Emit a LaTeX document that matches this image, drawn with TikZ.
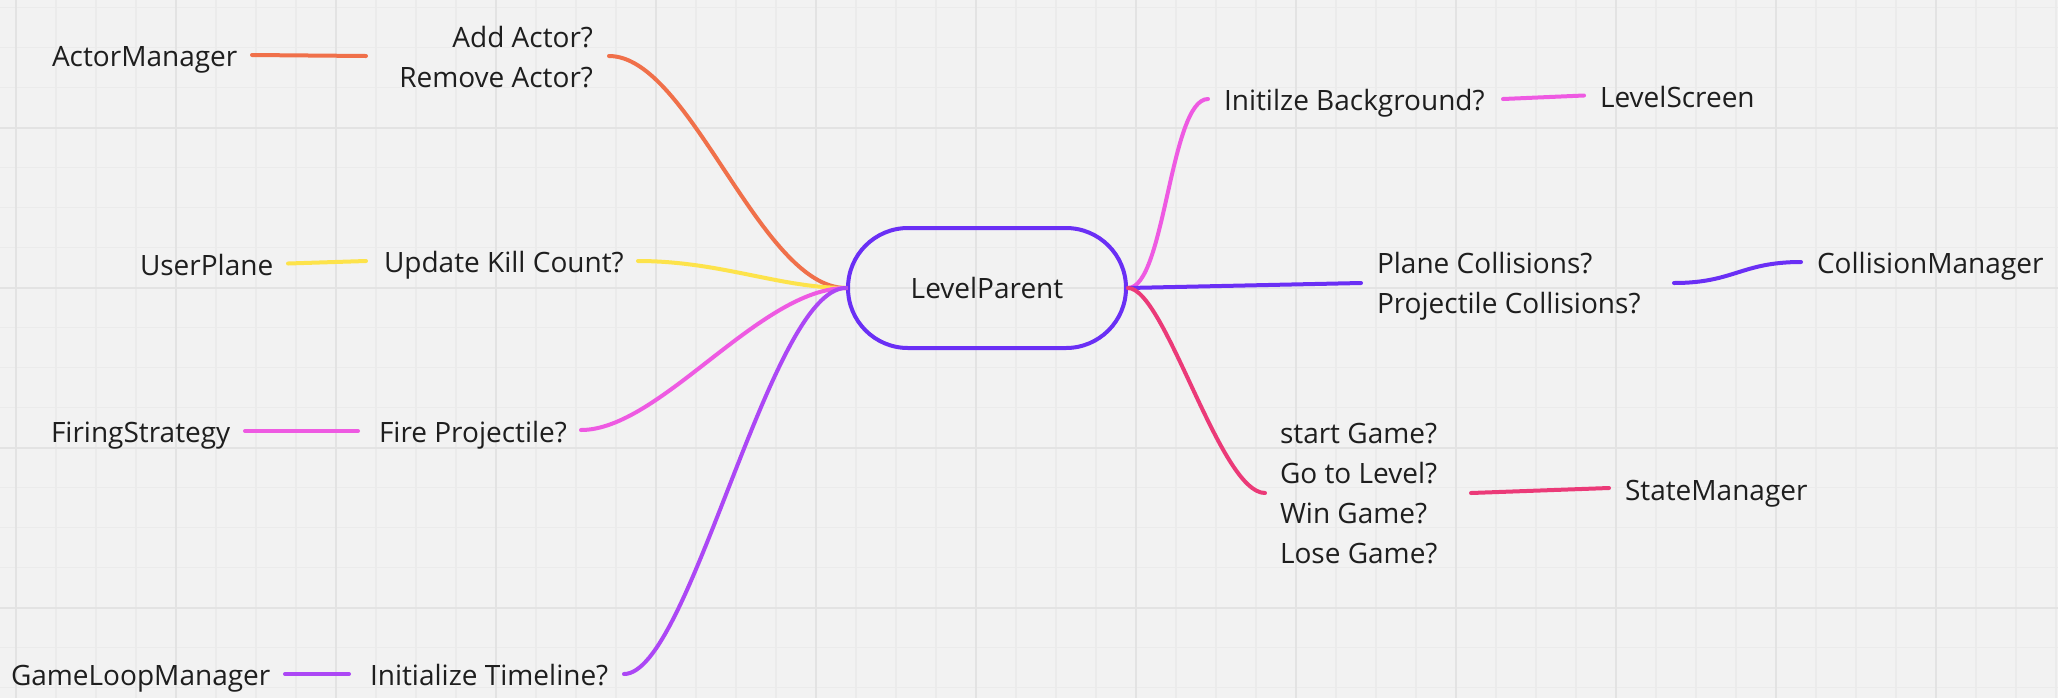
\documentclass[tikz,border=0pt]{standalone}
\usepackage{fontspec}
\setmainfont{Open Sans}
\usetikzlibrary{shapes.misc}

\definecolor{canvas}{HTML}{F2F2F2}
\definecolor{gridminor}{HTML}{EBEBEB}
\definecolor{gridmajor}{HTML}{E3E3E3}
\definecolor{inkc}{HTML}{1E1E1E}
\definecolor{cOrange}{HTML}{F0704A}
\definecolor{cYellow}{HTML}{FDE34B}
\definecolor{cPink}{HTML}{EE5AE2}
\definecolor{cPurple}{HTML}{AC47F5}
\definecolor{cViolet}{HTML}{6A2FF5}
\definecolor{cRed}{HTML}{EB3A78}

\begin{document}
\begin{tikzpicture}[x=0.5pt,y=-0.5pt,
  label/.style={inner sep=0pt, outer sep=0pt, text=inkc,
    font=\fontsize{14pt}{20pt}\selectfont},
  hub/.style={rounded rectangle, draw=cViolet, line width=2pt,
    minimum width=139pt, minimum height=60pt, inner sep=0pt, text=inkc,
    font=\fontsize{14pt}{20pt}\selectfont},
  link/.style={line width=2pt, line cap=round}]

% canvas and grid
\useasboundingbox (0,0) rectangle (2058,698);
\fill[canvas] (0,0) rectangle (2058,698);
\foreach \gx in {0,...,51} {\draw[gridminor, line width=0.6pt] (16+40*\gx,0) -- (16+40*\gx,698);}
\foreach \gy in {0,...,17} {\draw[gridminor, line width=0.6pt] (0,7.7+40*\gy) -- (2058,7.7+40*\gy);}
\foreach \gx in {0,...,12} {\draw[gridmajor, line width=1pt] (16+160*\gx,0) -- (16+160*\gx,698);}
\foreach \gy in {0,...,3} {\draw[gridmajor, line width=1pt] (0,127.7+160*\gy) -- (2058,127.7+160*\gy);}

% central topic
\node[hub] (lp) at (987,288) {LevelParent};

% left branches (multi-line labels are placed by their last baseline)
\node[label, anchor=base west] (am) at (52,66) {ActorManager};
\node[label, anchor=base east, align=right] (aa) at (593,87.3) {Add Actor?\\Remove Actor?};
\node[label, anchor=base west] (up) at (140,275) {UserPlane};
\node[label, anchor=base west] (uk) at (384,272) {Update Kill Count?};
\node[label, anchor=base west] (fs) at (51,442) {FiringStrategy};
\node[label, anchor=base west] (fp) at (379,442) {Fire Projectile?};
\node[label, anchor=base west] (gl) at (11,685) {GameLoopManager};
\node[label, anchor=base west] (it) at (370,685) {Initialize Timeline?};

% right branches
\node[label, anchor=base west] (ib) at (1224,110) {Initilze Background?};
\node[label, anchor=base west] (ls) at (1600,107.5) {LevelScreen};
\node[label, anchor=base west, align=left] (pc) at (1377,313.5) {Plane Collisions?\\Projectile Collisions?};
\node[label, anchor=base west] (cm) at (1817,273.5) {CollisionManager};
\node[label, anchor=base west, align=left] (sg) at (1280,563.5) {start Game?\\Go to Level?\\Win Game?\\Lose Game?};
\node[label, anchor=base west] (sm) at (1625,500) {StateManager};

% connector ends
\coordinate (am1) at (252,55);   \coordinate (am2) at (366,56);
\coordinate (aa1) at (609,56);
\coordinate (up1) at (288,263.5); \coordinate (up2) at (366,261);
\coordinate (uk1) at (638,261);
\coordinate (fs1) at (245,431);  \coordinate (fs2) at (358,431);
\coordinate (fp1) at (581,430);
\coordinate (gl1) at (285,674);  \coordinate (gl2) at (349,674);
\coordinate (it1) at (624,674);
\coordinate (ib1) at (1208,99);
\coordinate (ib2) at (1503,99);  \coordinate (ib3) at (1584,95.5);
\coordinate (pc1) at (1361,283);
\coordinate (pc2) at (1674,283); \coordinate (pc3) at (1801,262);
\coordinate (sg1) at (1265,493);
\coordinate (sg2) at (1471,493); \coordinate (sg3) at (1609,488);

% left connectors
\draw[link, cOrange] (am1) -- (am2);
\draw[link, cOrange] (aa1) .. controls +(81,0) and +(-86,0) .. (lp.west);
\draw[link, cYellow] (up1) -- (up2);
\draw[link, cYellow] (uk1) .. controls +(82,0) and +(-66,0) .. (lp.west);
\draw[link, cPink] (fs1) -- (fs2);
\draw[link, cPink] (fp1) .. controls +(79,0) and +(-86,0) .. (lp.west);
\draw[link, cPurple] (gl1) -- (gl2);
\draw[link, cPurple] (it1) .. controls +(66,0) and +(-76,0) .. (lp.west);

% right connectors
\draw[link, cPink] (lp.east) .. controls +(37,0) and +(-38,0) .. (ib1);
\draw[link, cPink] (ib2) -- (ib3);
\draw[link, cViolet] (lp.east) -- (pc1);
\draw[link, cViolet] (pc2) .. controls +(60,0) and +(-60,0) .. (pc3);
\draw[link, cRed] (lp.east) .. controls +(37,0) and +(-45,0) .. (sg1);
\draw[link, cRed] (sg2) -- (sg3);
\end{tikzpicture}
\end{document}
